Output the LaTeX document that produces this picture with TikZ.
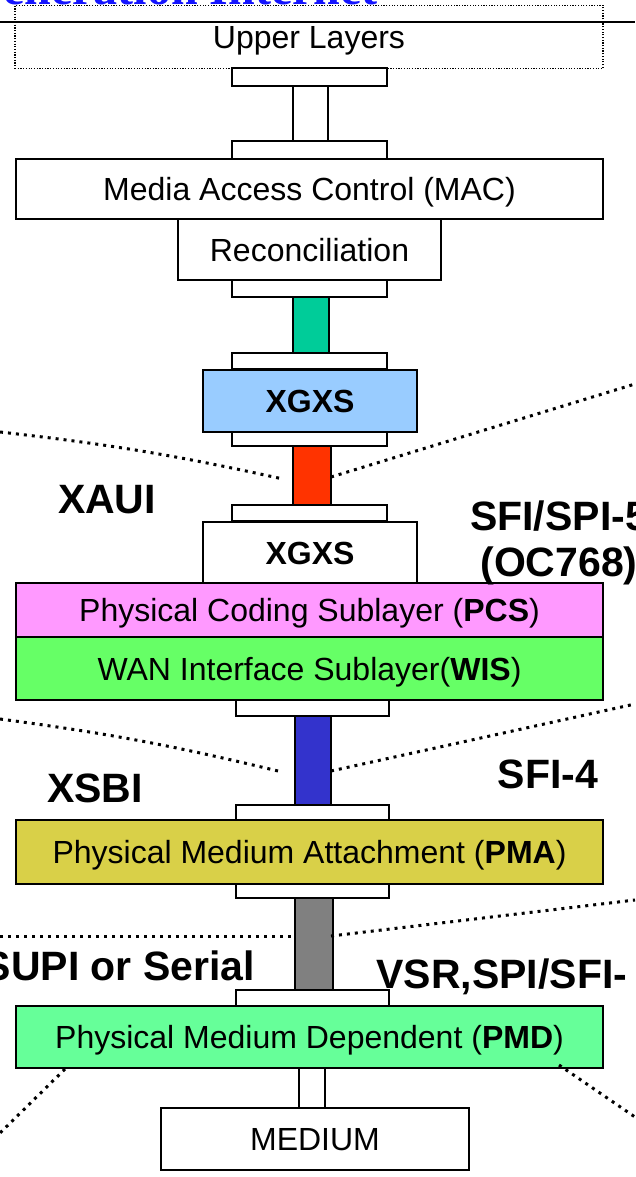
\documentclass[tikz,border=0pt]{standalone}
\usepackage{fontspec}
\setmainfont{Liberation Sans}
\newfontfamily\headserif{Liberation Serif}
\usetikzlibrary{calc}

\definecolor{xgxsblue}{RGB}{153,204,255}
\definecolor{pcspink}{RGB}{255,153,255}
\definecolor{wisgreen}{RGB}{102,255,102}
\definecolor{pmaolive}{RGB}{217,208,72}
\definecolor{pmdgreen}{RGB}{102,255,153}
\definecolor{barteal}{RGB}{0,204,153}
\definecolor{barred}{RGB}{255,51,0}
\definecolor{barblue}{RGB}{51,51,204}
\definecolor{bargrey}{RGB}{128,128,128}
\definecolor{headblue}{RGB}{20,20,255}

\begin{document}
\begin{tikzpicture}[x=1pt,y=-1pt,
  layerbox/.style={draw=black, line width=2.1pt, fill=white, inner sep=0pt, outer sep=0pt,
    text height=23pt, text depth=0pt, font=\fontsize{32}{36}\selectfont},
  tab/.style={draw=black, line width=2.1pt, fill=white, inner sep=0pt, outer sep=0pt,
    minimum width=155pt},
  bar/.style={draw=black, line width=2.1pt},
  link/.style={line width=3pt, dash pattern=on 3pt off 5pt},
  iface/.style={inner sep=0pt, outer sep=0pt, anchor=base,
    font=\fontsize{41}{46}\selectfont\bfseries}
]
\useasboundingbox (0,0) rectangle (635,1177);
\clip (0,0) rectangle (635,1177);

% slide heading, mostly above the page
\node[anchor=base east, inner sep=0pt, text=headblue,
  font=\headserif\bfseries\fontsize{48}{52}\selectfont] (head) at (378,5) {Generation Internet};

% upper layers and the heading rule
\node[draw=black, line width=1.2pt, dash pattern=on 1.2pt off 1.5pt, inner sep=0pt,
  minimum width=588pt, minimum height=63pt, text height=23pt, text depth=0pt,
  font=\fontsize{32}{36}\selectfont] (upper) at (309,37) {Upper Layers};
\coordinate (ruleL) at (0,22);
\coordinate (ruleR) at (635,22);
\draw[line width=2.2pt] (ruleL) -- (ruleR);

% interface tabs
\node[tab, minimum height=18pt] (tabA1) at (309.5,77) {};
\node[tab, minimum height=18pt] (tabA2) at (309.5,150) {};
\node[tab, minimum height=17pt] (tabB1) at (309.5,288.5) {};
\node[tab, minimum height=16pt] (tabB2) at (309.5,361) {};
\node[tab, minimum height=14pt] (tabC1) at (309.5,439) {};
\node[tab, minimum height=16pt] (tabC2) at (309.5,513) {};
\node[tab, minimum width=153pt, minimum height=16pt] (tabD1) at (312.5,708) {};
\node[tab, minimum width=153pt, minimum height=15pt] (tabD2) at (312.5,812.5) {};
\node[tab, minimum width=153pt, minimum height=14pt] (tabE1) at (312.5,891) {};
\node[tab, minimum width=153pt, minimum height=16pt] (tabE2) at (312.5,998) {};

% sublayers
\node[layerbox, minimum width=587pt, minimum height=60pt] (mac) at (309.5,189) {Media Access Control (MAC)};
\node[layerbox, minimum width=263pt, minimum height=61pt] (rec) at (309.5,249.5) {Reconciliation};
\node[layerbox, fill=xgxsblue, minimum width=214pt, minimum height=62pt] (xgxsA) at (310,401) {\bfseries XGXS};
\node[layerbox, minimum width=214pt, minimum height=61pt] (xgxsB) at (310,552.5) {\bfseries XGXS};
\node[layerbox, fill=pcspink, minimum width=587pt, minimum height=54pt] (pcs) at (309.5,610) {Physical Coding Sublayer (\textbf{PCS})};
\node[layerbox, fill=wisgreen, minimum width=587pt, minimum height=63pt] (wis) at (309.5,668.5) {WAN Interface Sublayer(\textbf{WIS})};
\node[layerbox, fill=pmaolive, minimum width=587pt, minimum height=64pt] (pma) at (309.5,852) {Physical Medium Attachment (\textbf{PMA})};
\node[layerbox, fill=pmdgreen, minimum width=587pt, minimum height=62pt] (pmd) at (309.5,1037) {Physical Medium Dependent (\textbf{PMD})};
\node[layerbox, minimum width=308pt, minimum height=62pt] (medium) at (315,1139) {MEDIUM};

% interconnect bars between the tabs
\draw[bar, fill=white]   (tabA1.south -| 293,0) rectangle (tabA2.north -| 328,0);
\draw[bar, fill=barteal] (tabB1.south -| 293,0) rectangle (tabB2.north -| 329,0);
\draw[bar, fill=barred]  (tabC1.south -| 293,0) rectangle (tabC2.north -| 331,0);
\draw[bar, fill=barblue] (tabD1.south -| 295,0) rectangle (tabD2.north -| 331,0);
\draw[bar, fill=bargrey] (tabE1.south -| 295,0) rectangle (tabE2.north -| 333,0);
\draw[bar, fill=white]   (pmd.south -| 299,0) rectangle (medium.north -| 325,0);

% dotted call-out lines
\coordinate (xauiL) at (0,432);   \coordinate (xauiLi) at (283,479);
\coordinate (xauiR) at (635,384); \coordinate (xauiRi) at (331,477);
\coordinate (xsbiL) at (0,719);   \coordinate (xsbiLi) at (278,771);
\coordinate (xsbiR) at (635,704); \coordinate (xsbiRi) at (331,771);
\coordinate (supiL) at (0,936);   \coordinate (supiLi) at (295,936);
\coordinate (supiR) at (635,900); \coordinate (supiRi) at (331,936);
\coordinate (pmdLo) at (0,1133);  \coordinate (pmdLi) at (65,1069);
\coordinate (pmdRo) at (635,1117);\coordinate (pmdRi) at (559,1065);
\draw[link] (xauiL) to[bend left=3] (xauiLi);
\draw[link] (xauiRi) -- (xauiR);
\draw[link] (xsbiL) to[bend left=3] (xsbiLi);
\draw[link] (xsbiRi) -- (xsbiR);
\draw[link] (supiL) -- (supiLi);
\draw[link] (supiRi) -- (supiR);
\draw[link] (pmdLi) -- (pmdLo);
\draw[link] (pmdRi) -- (pmdRo);

% interface names
\node[iface] (xaui) at (107,513) {XAUI};
\node[iface] (sfi5) at (559,530) {SFI/SPI-5};
\node[iface] (oc768) at (559,576) {(OC768)};
\node[iface] (xsbi) at (95,802) {XSBI};
\node[iface] (sfi4) at (548,788) {SFI-4};
\node[iface, anchor=base east] (supi) at (255,980) {SUPI or Serial};
\node[iface, anchor=base west] (vsr) at (376.5,988) {VSR,SPI/SFI-};
\end{tikzpicture}
\end{document}
